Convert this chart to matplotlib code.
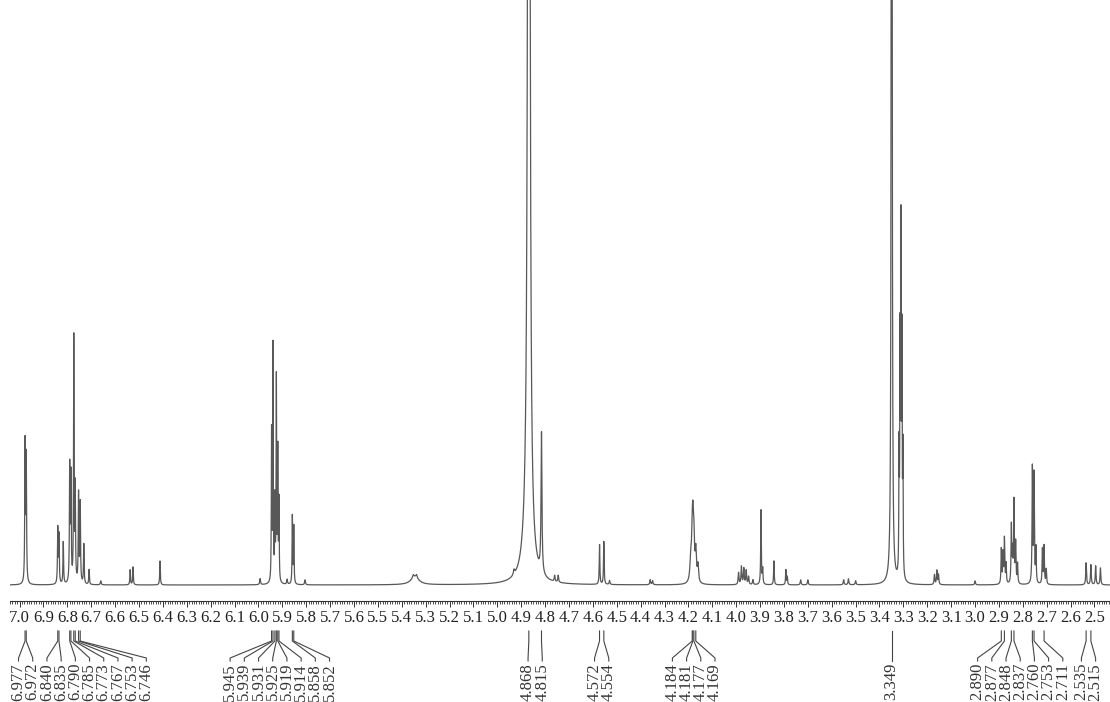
import numpy as np
import matplotlib.pyplot as plt
import matplotlib.transforms as mtransforms
from matplotlib.ticker import MultipleLocator, FormatStrFormatter

plt.rcParams['font.family'] = ['Liberation Serif', 'DejaVu Serif']

# peaks: position (ppm), height (plot units), half width (ppm)
peak_ppm = [
    6.977, 6.972, 6.840, 6.835, 6.817, 6.790, 6.785, 6.773, 6.767, 6.753, 6.746, 6.731, 6.709,
    6.660, 6.537, 6.525, 6.412,
    5.993, 5.945, 5.939, 5.931, 5.925, 5.919, 5.914, 5.880, 5.858, 5.852, 5.805,
    5.345, 5.352, 5.338,
    4.930, 4.872, 4.868, 4.815, 4.760, 4.745,
    4.572, 4.554, 4.530, 4.360, 4.350,
    4.190, 4.184, 4.181, 4.177, 4.169, 4.160,
    3.990, 3.978, 3.968, 3.958, 3.948, 3.930, 3.896, 3.889, 3.842, 3.792, 3.786,
    3.730, 3.700, 3.550, 3.530, 3.500,
    3.349, 3.318, 3.314, 3.310, 3.306, 3.302,
    3.170, 3.160, 3.153, 3.000,
    2.890, 2.883, 2.877, 2.870, 2.848, 2.843, 2.837, 2.830, 2.822,
    2.760, 2.753, 2.745, 2.718, 2.711, 2.702,
    2.535, 2.515, 2.495, 2.475,
]
peak_height = [
    140, 125, 55, 48, 42, 115, 105, 245, 95, 90, 80, 40, 15,
    4, 15, 18, 24,
    6, 150, 235, 80, 205, 130, 80, 5, 68, 58, 5,
    8, 3, 3,
    5, 70, 3000, 140, 6, 7,
    40, 43, 4, 5, 4,
    22, 38, 46, 38, 30, 17,
    12, 18, 16, 14, 8, 5, 75, 15, 24, 15, 8,
    5, 5, 5, 6, 4,
    3000, 120, 225, 335, 225, 120,
    10, 14, 10, 4,
    35, 30, 45, 20, 58, 30, 82, 40, 20,
    115, 108, 35, 35, 38, 15,
    22, 20, 19, 17,
]
peak_width = [
    0.0015, 0.0015, 0.0015, 0.0015, 0.0015, 0.0015, 0.0015, 0.0012, 0.0015, 0.0015, 0.0015, 0.0015, 0.0015,
    0.002, 0.0015, 0.0015, 0.0015,
    0.002, 0.0012, 0.0012, 0.0012, 0.0012, 0.0012, 0.0012, 0.002, 0.0013, 0.0013, 0.002,
    0.02, 0.003, 0.003,
    0.003, 0.016, 0.0028, 0.0022, 0.002, 0.002,
    0.0015, 0.0015, 0.002, 0.002, 0.002,
    0.004, 0.003, 0.003, 0.003, 0.003, 0.003,
    0.002, 0.002, 0.002, 0.002, 0.002, 0.002, 0.0015, 0.0015, 0.0015, 0.0015, 0.0015,
    0.002, 0.002, 0.002, 0.002, 0.002,
    0.0012, 0.0012, 0.0012, 0.0012, 0.0012, 0.0012,
    0.0018, 0.0018, 0.0018, 0.002,
    0.0016, 0.0016, 0.0016, 0.0016, 0.0016, 0.0016, 0.0016, 0.0016, 0.0016,
    0.0016, 0.0016, 0.0016, 0.0016, 0.0016, 0.0016,
    0.0018, 0.0018, 0.0018, 0.0018,
]

# labelled shifts, in the groups they are drawn in
label_groups = [
    [6.977, 6.972],
    [6.840, 6.835, 6.790, 6.785, 6.773, 6.767, 6.753, 6.746],
    [5.945, 5.939, 5.931, 5.925, 5.919, 5.914, 5.858, 5.852],
    [4.868, 4.815],
    [4.572, 4.554],
    [4.184, 4.181, 4.177, 4.169],
    [3.349],
    [2.890, 2.877, 2.848, 2.837, 2.760, 2.753, 2.711],
    [2.535, 2.515],
]

x_left, x_right = 7.04, 2.435

ppm = np.linspace(x_left, x_right, 14000)
spec = np.zeros_like(ppm)
for p, h, w in zip(peak_ppm, peak_height, peak_width):
    spec += h / (1 + ((ppm - p) / w) ** 2)

W, H = 1110, 702
fig = plt.figure(figsize=(W / 100, H / 100), dpi=100)
ax = fig.add_axes([10 / W, 101 / H, 1100 / W, 601 / H])
ax.plot(ppm, spec, color='#585858', lw=0.9)
ax.set_xlim(x_left, x_right)
ax.set_ylim(-16, 585)

for s in ['top', 'left', 'right']:
    ax.spines[s].set_visible(False)
ax.spines['bottom'].set_color('#333333')
ax.spines['bottom'].set_linewidth(0.8)
ax.set_yticks([])
ax.xaxis.set_major_locator(MultipleLocator(0.1))
ax.xaxis.set_minor_locator(MultipleLocator(0.01))
ax.xaxis.set_major_formatter(FormatStrFormatter('%.1f'))
ax.tick_params(axis='x', which='major', direction='out', length=4, width=0.7,
               pad=2.5, labelsize=12, color='#333333', labelcolor='#222222')
ax.tick_params(axis='x', which='minor', direction='out', length=2.2, width=0.6, color='#333333')

# label layout: spread labels evenly under each group without overlaps
px_per_ppm = 1100 / (x_left - x_right)
gap = 14.2 / px_per_ppm
peaks_flat, slots = [], []
for g in label_groups:
    c = np.mean(g)
    n = len(g)
    for i, p in enumerate(g):
        peaks_flat.append(p)
        slots.append(c + ((n - 1) / 2 - i) * gap)
slots[0] = min(slots[0], x_left - 8 / px_per_ppm)
for i in range(1, len(slots)):
    slots[i] = min(slots[i], slots[i - 1] - gap)
slots[-1] = max(slots[-1], x_right + 8 / px_per_ppm)
for i in range(len(slots) - 2, -1, -1):
    slots[i] = max(slots[i], slots[i + 1] + gap)

trans = mtransforms.blended_transform_factory(ax.transData, fig.transFigure)
y0, y1, y2, y3, y4 = [1 - v / H for v in (631, 641, 658, 661, 663)]
for p, lx in zip(peaks_flat, slots):
    ax.plot([p, p, lx, lx], [y0, y1, y2, y3], transform=trans, clip_on=False,
            color='#444444', lw=0.8)
    ax.text(lx, y4, f'{p:.3f}', transform=trans, rotation=90, ha='center', va='top',
            fontsize=12, color='#333333', clip_on=False)

fig.savefig('out.png', dpi=100)
